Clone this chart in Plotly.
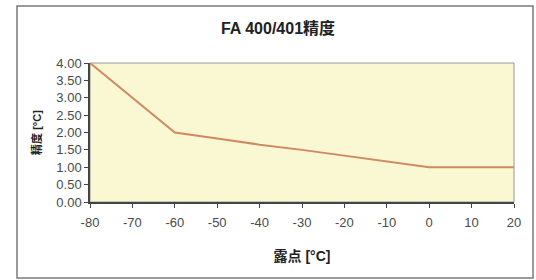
import plotly.graph_objects as go

dew_point = [-80, -60, -50, -40, -30, -20, -10, 0, 10, 20]
accuracy = [4.00, 2.00, 1.83, 1.65, 1.50, 1.33, 1.18, 1.00, 1.00, 1.00]

x_ticks = [-80, -70, -60, -50, -40, -30, -20, -10, 0, 10, 20]
y_ticks = [0, 0.5, 1, 1.5, 2, 2.5, 3, 3.5, 4]

FONT = "Liberation Sans, Arial, Noto Sans CJK SC, sans-serif"

fig = go.Figure()
fig.add_trace(go.Scatter(x=dew_point, y=accuracy, mode="lines",
                         line=dict(color="#CF8A62", width=2), showlegend=False,
                         hoverinfo="skip"))

W, H = 536, 280
L, R, T, B = 90, 22, 63, 78
pw, ph = W - L - R, H - T - B

def px(x):
    return (x - L) / pw

def py(y):
    return (H - B - y) / ph

# outer chart border
fig.add_shape(type="rect", xref="paper", yref="paper",
              x0=px(17), x1=px(533), y0=py(278), y1=py(6),
              line=dict(color="#7a7a7a", width=1.5), layer="below")
# plot area border
fig.add_shape(type="rect", xref="paper", yref="paper",
              x0=0, x1=1, y0=0, y1=1,
              line=dict(color="#9a9a9a", width=1), layer="below")

fig.update_layout(
    width=W, height=H,
    margin=dict(l=L, r=R, t=T, b=B),
    paper_bgcolor="white",
    plot_bgcolor="#FAF7D3",
    font=dict(family=FONT, size=13, color="#4a4a4a"),
    title=dict(text="<b>FA 400/401精度</b>", x=278 / W, xanchor="center",
               y=1 - 28 / H, yanchor="middle", font=dict(size=16, color="#222222")),
    xaxis=dict(range=[-80, 20], tickvals=x_ticks, ticktext=[str(v) for v in x_ticks],
               showgrid=False, zeroline=False, showline=True, linecolor="#444444",
               linewidth=1.5, ticks="outside", ticklen=4, tickcolor="#444444",
               ticklabelstandoff=4,
               title=dict(text="<b>露点 [°C]</b>", font=dict(size=14, color="#222222"), standoff=22)),
    yaxis=dict(range=[0, 4], tickvals=y_ticks, ticktext=[f"{v:.2f}" for v in y_ticks],
               showgrid=False, zeroline=False, showline=True, linecolor="#444444",
               linewidth=1.5, ticks="outside", ticklen=4, tickcolor="#444444",
               title=dict(text="<b>精度 [°C]</b>", font=dict(size=11, color="#222222"), standoff=12)),
)

fig.write_html("out.html", config={"displayModeBar": False},
               post_script="document.body.style.margin='0';document.body.style.overflow='hidden';")
